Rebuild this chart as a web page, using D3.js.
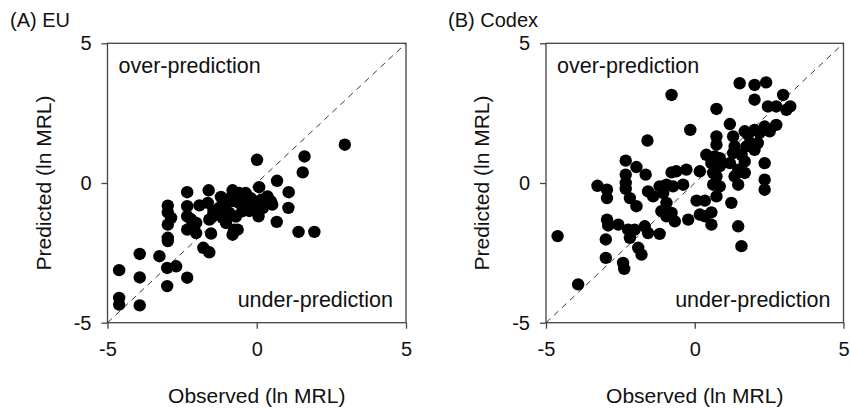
<!DOCTYPE html>
<html><head><meta charset="utf-8">
<script src="https://cdn.jsdelivr.net/npm/d3@7"></script>
<style>
body{margin:0;background:#fff;}
text{font-family:"Liberation Sans",Arial,sans-serif;fill:#111;}
</style></head>
<body><svg id="c" width="850" height="412"></svg>
<script>
// Panel titles and labels
const panelTitles = ["(A) EU", "(B) Codex"];
const tickValues = [-5, 0, 5];
const xTitle = "Observed (ln MRL)";
const yTitle = "Predicted (ln MRL)";
const overLabel = "over-prediction";
const underLabel = "under-prediction";

// Panel A (EU): observed, predicted
const euObserved = [2.95,1.6,1.54,0.01,0.68,1.07,1.06,0.67,1.4,1.93,0.08,0.06,0.47,
 -2.33,-1.61,-1.64,-1.92,-2.33,-2.33,-2.33,-2.03,-2.03,-1.59,-1.53,-1.79,-1.59,
 -2.98,-2.98,-2.87,-2.98,-2.98,-2.98,-3.26,-3.92,-4.61,-3.92,-3.0,-2.7,-2.33,-3.0,-4.61,-4.61,-3.92,
 -0.81,-0.37,-1.26,-1.03,-0.81,-0.59,-0.31,0.02,0.3,0.52,-1.37,-1.03,-0.76,-0.64,-0.81,-0.92,-0.48,
 -0.2,0.36,-1.48,-1.14,-0.59,-0.14,-0.05,-0.7,-0.25,0.2,-1.2,-2.2,-1.1,-0.4,0.15,-0.9,-1.45];
const euPredicted = [1.37,0.95,0.38,0.83,0.08,-0.33,-0.89,-1.39,-1.75,-1.75,-0.15,-1.19,-0.65,
 -0.33,-0.26,-0.71,-0.8,-0.83,-1.19,-1.67,-1.43,-1.79,-1.31,-1.81,-2.32,-2.48,
 -0.81,-1.05,-1.25,-1.49,-1.96,-2.08,-2.62,-2.54,-3.12,-3.38,-3.04,-2.98,-3.39,-3.69,-4.11,-4.35,-4.38,
 -0.26,-0.36,-0.89,-0.71,-0.65,-0.71,-0.65,-0.71,-0.65,-0.77,-1.13,-1.43,-1.67,-1.67,-1.85,-1.07,-1.01,
 -0.54,-0.48,-1.19,-1.25,-0.36,-0.95,-0.8,-1.2,-1.0,-0.9,-0.5,-1.3,-0.95,-0.85,-0.6,-0.55,-1.0];

// Panel B (Codex): observed, predicted
const codexObserved = [-4.61,-3.92,-3.27,-2.95,-2.95,-2.95,-2.91,-2.99,-2.99,-2.41,-2.37,-2.32,-2.32,-2.32,-2.32,
 -1.96,-1.65,-1.59,-2.18,-1.96,-1.57,-1.4,-2.57,-2.24,-2.18,-2.02,-1.68,-1.57,-1.9,-1.79,-1.18,-1.18,
 -0.95,-0.78,-0.73,-0.39,-1.06,-0.95,-1.12,-0.78,-0.67,-0.95,-0.78,-0.62,-0.28,-0.15,0.17,0.06,0.34,
 -0.22,0.17,0.34,0.56,0.56,0.73,0.73,0.73,0.67,0.39,0.56,0.84,0.84,0.62,0.73,0.84,0.73,0.62,
 1.18,1.23,1.46,1.57,1.51,1.29,1.34,1.29,1.18,1.46,1.34,1.46,1.68,1.68,1.74,1.79,1.68,
 2.01,2.4,2.01,2.01,2.18,2.12,2.01,2.35,2.52,2.74,2.46,2.74,2.97,3.08,3.21,2.35,2.35,2.35,1.85,1.57];
const codexPredicted = [-1.9,-3.63,-0.1,-0.24,-0.54,-1.31,-1.52,-2.02,-2.68,-2.86,-3.07,0.8,0.3,0.0,-0.21,
 0.57,0.3,1.52,-0.54,-0.83,-0.3,-0.48,-1.49,-1.67,-1.96,-1.67,-1.55,-1.79,-2.32,-2.56,-1.82,-0.12,
 -0.06,3.15,-0.12,-0.06,-0.36,-0.71,-1.01,-1.07,-1.37,-1.19,0.38,0.42,0.48,1.9,0.42,-0.63,-0.63,
 -1.31,-1.13,-1.19,-1.05,-1.49,2.65,1.67,1.37,0.95,1.01,0.71,0.89,0.6,0.36,0.24,-0.12,-0.48,-0.06,
 2.11,-0.71,-1.55,-2.26,3.57,1.67,1.31,1.07,0.71,0.48,0.24,-0.06,0.36,0.77,1.31,1.73,1.85,
 3.51,3.6,2.98,1.9,1.79,1.43,1.19,2.02,1.85,2.08,2.74,2.74,3.15,2.62,2.74,0.71,0.12,-0.24,1.43,1.01];

const panels = [
  {title: panelTitles[0], obs: euObserved, pred: euPredicted, left: 107.5, right: 406, titleX: 10},
  {title: panelTitles[1], obs: codexObserved, pred: codexPredicted, left: 546, right: 843.5, titleX: 448}
];
const plotTop = 43.3, plotBottom = 322.7;
const svg = d3.select("#c");
const axisColor = "#444";

panels.forEach(p => {
  const x = d3.scaleLinear().domain([-5,5]).range([p.left, p.right]);
  const y = d3.scaleLinear().domain([-5,5]).range([plotBottom, plotTop]);
  const g = svg.append("g");

  // frame
  g.append("rect").attr("x", p.left).attr("y", plotTop)
    .attr("width", p.right - p.left).attr("height", plotBottom - plotTop)
    .attr("fill", "none").attr("stroke", axisColor).attr("stroke-width", 1.3);

  // diagonal 1:1 line
  g.append("line").attr("x1", x(-5)).attr("y1", y(-5)).attr("x2", x(5)).attr("y2", y(5))
    .attr("stroke", "#222").attr("stroke-width", 0.9).attr("stroke-dasharray", "6,5");

  // axes
  const xa = g.append("g").attr("transform", `translate(0,${plotBottom})`)
    .call(d3.axisBottom(x).tickValues(tickValues).tickSize(6).tickPadding(13).tickFormat(d3.format("d")));
  const ya = g.append("g").attr("transform", `translate(${p.left},0)`)
    .call(d3.axisLeft(y).tickValues(tickValues).tickSize(6).tickPadding(10).tickFormat(d3.format("d")));
  [xa, ya].forEach(a => {
    a.select(".domain").remove();
    a.selectAll("line").attr("stroke", axisColor).attr("stroke-width", 1.3);
    a.selectAll("text").attr("font-size", 20).attr("fill", "#111")
      .style("font-family", '"Liberation Sans",Arial,sans-serif');
  });
  // format minus sign as hyphen
  g.selectAll(".tick text").text(d => d < 0 ? "-" + Math.abs(d) : d);

  // points
  g.append("g").selectAll("circle").data(d3.zip(p.obs, p.pred)).join("circle")
    .attr("cx", d => x(d[0])).attr("cy", d => y(d[1])).attr("r", 6.2).attr("fill", "#000");

  // region labels
  g.append("text").attr("x", p.left + 11).attr("y", 73).attr("font-size", 21.5).text(overLabel);
  g.append("text").attr("x", p.right - 13).attr("y", 307).attr("text-anchor", "end")
    .attr("font-size", 21.5).text(underLabel);

  // axis titles
  g.append("text").attr("x", (p.left + p.right)/2).attr("y", 403).attr("text-anchor", "middle")
    .attr("font-size", 21).text(xTitle);
  g.append("text").attr("transform", `translate(${p.left - 57},${(plotTop+plotBottom)/2}) rotate(-90)`)
    .attr("text-anchor", "middle").attr("font-size", 21).text(yTitle);

  // panel title
  g.append("text").attr("x", p.titleX).attr("y", 27).attr("font-size", 20).text(p.title);
});
</script></body></html>
